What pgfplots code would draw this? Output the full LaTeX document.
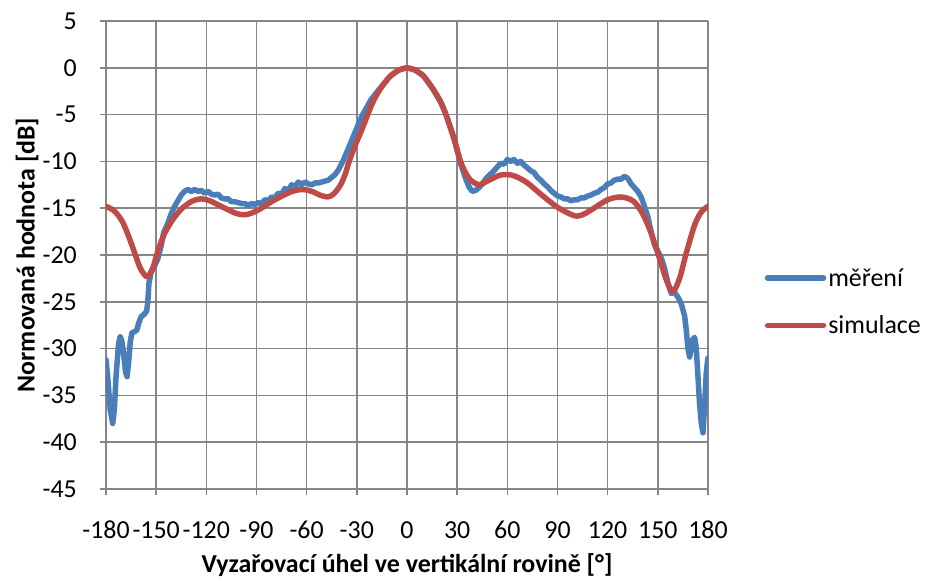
\documentclass[border=0pt]{standalone}
\usepackage{pgfplots}
\pgfplotsset{compat=1.18}
\usepackage{fontspec}
\setmainfont{Carlito}
\definecolor{mblue}{HTML}{4A7EBB}
\definecolor{mred}{HTML}{BE4B48}
\definecolor{gridgray}{HTML}{868686}
\begin{document}
\begin{tikzpicture}
\begin{axis}[
  width=602bp, height=468bp, scale only axis,
  xmin=-180, xmax=180, ymin=-45, ymax=5,
  xtick={-180,-150,...,180}, ytick={-45,-40,...,5},
  grid=major, major grid style={draw=gridgray, line width=1.5bp},
  axis lines=left, axis line style={draw=gridgray, line width=1.5bp, -},
  tick style={draw=gridgray, line width=1.5bp},
  tick align=outside, major tick length=6bp,
  ticklabel style={font=\fontsize{26}{30}\selectfont, inner sep=0pt},
  xticklabel style={anchor=north, yshift=-26bp},
  yticklabel style={anchor=east, xshift=-23bp},
  /pgf/number format/assume math mode=true,
  xlabel={\bfseries Vyzařovací úhel ve vertikální rovině [°]},
  ylabel={\bfseries Normovaná hodnota [dB]},
  label style={font=\fontsize{26}{30}\selectfont},
  xlabel style={at={([yshift=-76bp]axis description cs:0.5,0)}, anchor=center},
  ylabel style={at={([xshift=-79bp]axis description cs:0,0.5)}, anchor=center},
  legend style={at={(1.089,0.4)}, anchor=west, draw=none, fill=none,
    font=\fontsize{26}{30}\selectfont, row sep=24bp},
  legend cell align=left,
  legend image code/.code={\draw[#1, line width=5.5bp] (0,0) -- (56bp,0);},
]
\coordinate (O) at (axis cs:-180,-45);
\addplot[mblue, line width=5.5bp, line join=round, line cap=round] coordinates {
(-180,-31.2) (-179,-33) (-177.5,-36.5) (-176,-38) (-175,-36.5) (-174,-33)
(-172.5,-29.5) (-171.5,-28.7) (-170.5,-29.2) (-169.5,-30.5) (-168.3,-32.5)
(-167.4,-33) (-166.5,-31.5) (-165.5,-29.3) (-164.5,-28.3) (-163,-28.2)
(-161.5,-28.0) (-160.5,-27.3) (-159,-26.6) (-157,-26.3) (-155.7,-26)
(-155,-25) (-154.3,-23) (-153,-21.8) (-151,-21.2) (-149,-20.4) (-147,-19)
(-145.5,-17.6) (-143,-16.6) (-141,-15.6) (-139,-14.8) (-137,-14.2)
(-135,-13.6) (-133,-13.2) (-131,-13.0) (-129,-13.2) (-127,-13.0)
(-125,-13.2) (-123,-13.1) (-121,-13.4) (-119,-13.2) (-117,-13.5)
(-115,-13.6) (-113,-13.5) (-111,-13.9) (-109,-14.0) (-107,-14.0)
(-105,-14.3) (-103,-14.3) (-101,-14.4) (-99,-14.5) (-97,-14.5)
(-95,-14.7) (-93,-14.5) (-91,-14.6) (-89,-14.4) (-87,-14.5) (-85,-14.1)
(-83,-14.2) (-81,-13.8) (-79,-13.9) (-77,-13.4) (-75,-13.5) (-73,-12.9)
(-71,-13.1) (-69,-12.5) (-67,-12.7) (-65,-12.2) (-63,-12.5) (-61,-12.2)
(-59,-12.4) (-57,-12.5) (-55,-12.3) (-53,-12.3) (-51,-12.2) (-49,-12.1)
(-47,-12.0) (-45,-11.7) (-43,-11.4) (-41,-10.9) (-38.4,-10.0) (-35,-8.6)
(-32,-7.3) (-29,-6.0) (-26.5,-5.0) (-24,-4.2) (-21.5,-3.4) (-18,-2.6)
(-15,-1.95) (-10,-0.88) (-5,-0.25) (0,0)
(5,-0.25) (10,-0.9) (15.3,-2.2) (20,-3.6) (23.3,-5.0) (28,-7.5) (30,-8.8)
(32,-10.2) (35,-11.8) (37,-12.7) (39,-13.2) (41,-13.1) (43,-12.8) (45,-12.4)
(47,-11.9) (49,-11.5) (51,-11.2) (53,-10.8) (54,-10.6) (56,-10.2) (58,-10.3)
(60,-9.8) (62,-10.0) (64,-9.8) (66,-10.2) (68,-10.0) (70,-10.4)
(72,-10.7) (74,-11.0) (76,-11.2) (78,-11.7) (80,-12.0) (82,-12.4)
(84,-12.7) (86,-13.1) (88,-13.4) (90,-13.7) (92,-13.8) (94,-14.0)
(96,-14.0) (98,-14.2) (100,-14.1) (102,-14.1) (104,-13.9) (106,-13.9)
(108,-13.7) (110,-13.6) (112,-13.4) (114,-13.3) (116,-13.0) (118,-12.8)
(120,-12.4) (122,-12.3) (124,-12.0) (126,-11.9) (128,-11.9) (130,-11.6)
(132,-11.8) (134,-12.4) (136,-12.8) (138,-13.2) (140,-13.8) (142,-14.8)
(144,-15.9) (146,-17.5) (148,-18.9) (150,-19.6) (152,-20.3) (154,-21.4)
(156,-23.0) (158,-24.1) (160,-24.0) (162,-24.5) (164,-25.2) (166,-26.5)
(167,-28) (168,-30) (169,-30.9) (170,-30) (171,-29) (172,-28.8)
(173,-30) (174,-33) (175,-36) (176,-38) (177,-39) (178,-36)
(179,-32.5) (180,-31)
};
\addlegendentry{měření}
\addplot[mred, line width=5.5bp, smooth, tension=0.5, line join=round, line cap=round] coordinates {
(-180,-14.8) (-175,-15.3) (-170,-16.5) (-165,-18.7) (-160,-21.2)
(-157,-22.1) (-155,-22.3) (-152,-21.4) (-149,-19.6) (-145,-17.7)
(-140,-16.2) (-135,-15.1) (-130,-14.4) (-127,-14.15) (-123,-14.0)
(-118,-14.2) (-110,-14.9) (-103,-15.5) (-97,-15.7) (-90,-15.3)
(-80,-14.2) (-70,-13.3) (-63,-13.0) (-57,-13.2) (-52,-13.6) (-47.5,-13.8)
(-44,-13.5) (-40,-12.6) (-37,-11.4) (-34.6,-10.0) (-31,-8.3) (-27,-6.6)
(-23.5,-5.0) (-19.7,-3.4) (-15,-2.0) (-10,-0.9) (-5,-0.25) (0,0)
(5,-0.25) (10,-0.9) (15.3,-2.2) (20,-3.6) (23.3,-5.0) (28,-7.5) (32,-10.0)
(35,-11.2) (38,-12.0) (43,-12.5)
(47,-12.2) (55,-11.5) (60,-11.4) (65,-11.6) (72,-12.3) (80,-13.5)
(90,-14.9) (100,-15.8) (105,-15.7) (110,-15.2) (120,-14.1) (128,-13.8)
(135,-14.2) (140,-15.3) (145,-17.2) (150,-19.8) (155,-22.6) (159,-23.9)
(163,-22.5) (167,-19.8) (172,-16.8) (176,-15.4) (180,-14.8)
};
\addlegendentry{simulace}
\end{axis}
\pgfresetboundingbox
\path[use as bounding box] ([shift={(-106bp,-92bp)}]O) rectangle ([shift={(820bp,489bp)}]O);
\end{tikzpicture}
\end{document}
